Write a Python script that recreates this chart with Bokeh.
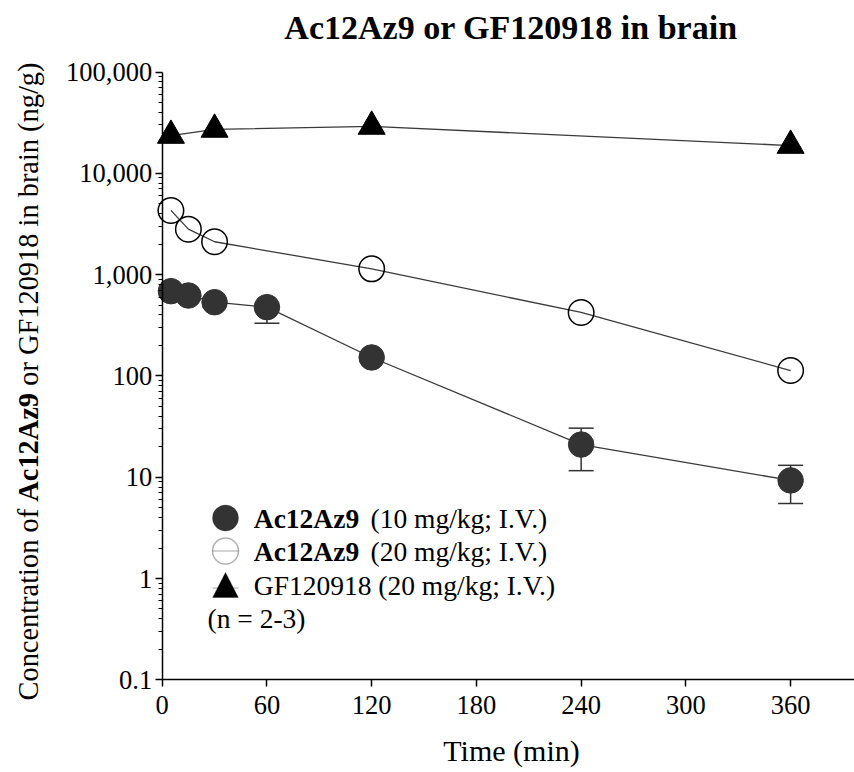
import math
from bokeh.plotting import figure
from bokeh.models import (Range1d, FixedTicker, Label, Whisker, ColumnDataSource, TeeHead,
                          BoxAnnotation, PolyAnnotation, NumeralTickFormatter)
from bokeh.embed import file_html
from bokeh.resources import INLINE

# ---------------- data ----------------
time_10 = [5, 15, 30, 60, 120, 240, 360]
conc_10 = [686, 622, 534, 477, 152, 21.0, 9.3]
err_time_10 = [60, 240, 360]
err_lower_10 = [331, 11.6, 5.5]
err_upper_10 = [477, 30.5, 13.1]

time_20 = [5, 15, 30, 120, 240, 360]
conc_20 = [4300, 2810, 2110, 1140, 423, 113]

time_gf = [5, 30, 120, 360]
conc_gf = [23600, 27100, 29000, 18800]

x_ticks = [0, 60, 120, 180, 240, 300, 360]
y_ticks = [0.1, 1, 10, 100, 1000, 10000, 100000]
y_tick_labels = ["0.1", "1", "10", "100", "1,000", "10,000", "100,000"]

legend_bold = ["Ac12Az9", "Ac12Az9", ""]
legend_rest = ["(10 mg/kg; I.V.)", "(20 mg/kg; I.V.)", "GF120918 (20 mg/kg; I.V.)"]
legend_note = "(n = 2-3)"

title_text = "Ac12Az9 or GF120918 in brain"
ylabel_parts = [("Concentration of", "normal"), ("Ac12Az9", "bold"),
                ("or GF120918 in brain (ng/g)", "normal")]
xlabel_text = "Time (min)"

# ---------------- layout constants (pixels) ----------------
FONT = "Liberation Serif"
DARK = "#333333"
LINE = "#3a3a3a"
MS = 25.5
W, H = 854, 772

X_ORIGIN_PX = 161.7        # pixel of t = 0
PX_PER_MIN = 1.7456
TOP_DECADE_PX = 71.5       # pixel of 100,000
PX_PER_DECADE = 101.3

x0 = -X_ORIGIN_PX / PX_PER_MIN
x1 = (W - X_ORIGIN_PX) / PX_PER_MIN
log_top = 5 + TOP_DECADE_PX / PX_PER_DECADE
log_bot = 5 - (H - TOP_DECADE_PX) / PX_PER_DECADE

p = figure(width=W, height=H, output_backend="svg", toolbar_location=None,
           y_axis_type="log", x_range=Range1d(x0, x1),
           y_range=Range1d(10 ** log_bot, 10 ** log_top),
           min_border_left=0, min_border_right=0, min_border_top=0, min_border_bottom=0)
p.title.visible = False
p.background_fill_color = "white"
p.border_fill_color = "white"
p.outline_line_color = None
p.grid.visible = False

# axes (placed at the data origin)
p.xaxis.ticker = FixedTicker(ticks=x_ticks)
minor = [m * 10.0 ** e for e in range(-1, 5) for m in range(2, 10)]
p.yaxis.ticker = FixedTicker(ticks=y_ticks, minor_ticks=minor)
p.yaxis.formatter = NumeralTickFormatter(format="0,0.[0]")
p.yaxis.major_label_overrides = {float(k): v for k, v in zip(y_ticks, y_tick_labels)}
p.xaxis.minor_tick_line_color = None
p.xaxis.fixed_location = y_ticks[0]
p.xaxis.bounds = (0, 400)
p.yaxis.fixed_location = 0
p.yaxis.bounds = (y_ticks[0], y_ticks[-1])
for ax in p.axis:
    ax.axis_line_width = 1.5
    ax.axis_line_color = "black"
    ax.major_tick_line_width = 1.5
    ax.major_tick_line_color = "black"
    ax.major_tick_out = 7
    ax.major_tick_in = 0
    ax.minor_tick_out = 4
    ax.minor_tick_in = 0
    ax.minor_tick_line_width = 1.2
    ax.major_label_text_font = FONT
    ax.major_label_text_font_size = "26.5px"
    ax.major_label_text_color = "black"
p.xaxis.major_label_standoff = 9
p.yaxis.major_label_standoff = 3

# error bars
src_err = ColumnDataSource(dict(t=err_time_10, lo=err_lower_10, up=err_upper_10))
wh = Whisker(source=src_err, base="t", lower="lo", upper="up", dimension="height",
             line_color=DARK, line_width=1.5, level="underlay",
             upper_head=TeeHead(size=25, line_color=DARK, line_width=1.5),
             lower_head=TeeHead(size=25, line_color=DARK, line_width=1.5))
p.add_layout(wh)

# lines
p.line(time_10, conc_10, line_color=LINE, line_width=1.3)
p.line(time_20, conc_20, line_color=LINE, line_width=1.3)
p.line(time_gf, conc_gf, line_color=LINE, line_width=1.3)

# markers
p.scatter(time_10, conc_10, marker="circle", size=MS, fill_color=DARK, line_color=DARK, line_width=1)
p.scatter(time_20, conc_20, marker="circle", size=MS, fill_color=None, line_color="black", line_width=1.5)
p.scatter(time_gf, conc_gf, marker="triangle", size=27, fill_color="black", line_color="black", line_width=1)

# title
p.add_layout(Label(x=510.5, y=27, x_units="canvas", y_units="canvas", text=title_text,
                   text_font=FONT, text_font_style="bold", text_font_size="34px",
                   text_align="center", text_baseline="middle", text_color="black"))

# x label
p.add_layout(Label(x=511, y=750, x_units="canvas", y_units="canvas", text=xlabel_text,
                   text_font=FONT, text_font_size="30px", text_align="center",
                   text_baseline="middle", text_color="black"))

# y label, in pieces (bold part in the middle)
YL_FS = 28.4
em_widths = {"Concentration of": 6.749, "Ac12Az9": 3.832, "or GF120918 in brain (ng/g)": 11.388}
SPACE = 0.25
y_pos = 700
for txt, style in ylabel_parts:
    p.add_layout(Label(x=28, y=y_pos, x_units="canvas", y_units="canvas", text=txt,
                       angle=math.pi / 2, text_font=FONT, text_font_style=style,
                       text_font_size=f"{YL_FS}px", text_align="left",
                       text_baseline="middle", text_color="black"))
    y_pos -= (em_widths[txt] + SPACE) * YL_FS

# legend (drawn with annotations)
LG_FS = 27.5
row_y = [517.5, 550.5, 584.5]
note_y = 618
mx = 225
r = 13
p.add_layout(BoxAnnotation(left=mx - r, right=mx + r, top=row_y[0] - r, bottom=row_y[0] + r,
                           left_units="canvas", right_units="canvas", top_units="canvas",
                           bottom_units="canvas", border_radius=r, fill_color=DARK, fill_alpha=1,
                           line_color=DARK, line_width=1, level="overlay"))
p.add_layout(PolyAnnotation(xs=[mx - r, mx + r], ys=[row_y[1], row_y[1]], xs_units="canvas",
                            ys_units="canvas", fill_alpha=0, line_color=LINE, line_width=1.3))
p.add_layout(BoxAnnotation(left=mx - r, right=mx + r, top=row_y[1] - r, bottom=row_y[1] + r,
                           left_units="canvas", right_units="canvas", top_units="canvas",
                           bottom_units="canvas", border_radius=r, fill_alpha=0,
                           line_color="black", line_width=1.5, level="overlay"))
p.add_layout(PolyAnnotation(xs=[mx - 13, mx + 13], ys=[row_y[2] + 3, row_y[2] + 3], xs_units="canvas",
                            ys_units="canvas", fill_alpha=0, line_color=LINE, line_width=1.3))
p.add_layout(PolyAnnotation(xs=[mx - 12.8, mx + 12.8, mx], ys=[row_y[2] + 12.5, row_y[2] + 12.5, row_y[2] - 12.5],
                            xs_units="canvas", ys_units="canvas", fill_color="black", fill_alpha=1,
                            line_color="black", line_width=1))

tx = 253.3
rest_x = 370
for i in range(3):
    xr = tx
    if legend_bold[i]:
        p.add_layout(Label(x=tx, y=row_y[i], x_units="canvas", y_units="canvas", text=legend_bold[i],
                           text_font=FONT, text_font_style="bold", text_font_size=f"{LG_FS}px",
                           text_align="left", text_baseline="middle", text_color="black"))
        xr = rest_x
    p.add_layout(Label(x=xr, y=row_y[i], x_units="canvas", y_units="canvas", text=legend_rest[i],
                       text_font=FONT, text_font_size=f"{LG_FS}px",
                       text_align="left", text_baseline="middle", text_color="black"))
p.add_layout(Label(x=207, y=note_y, x_units="canvas", y_units="canvas", text=legend_note,
                   text_font=FONT, text_font_size=f"{LG_FS}px",
                   text_align="left", text_baseline="middle", text_color="black"))

open("out.html", "w").write(file_html(p, INLINE))
